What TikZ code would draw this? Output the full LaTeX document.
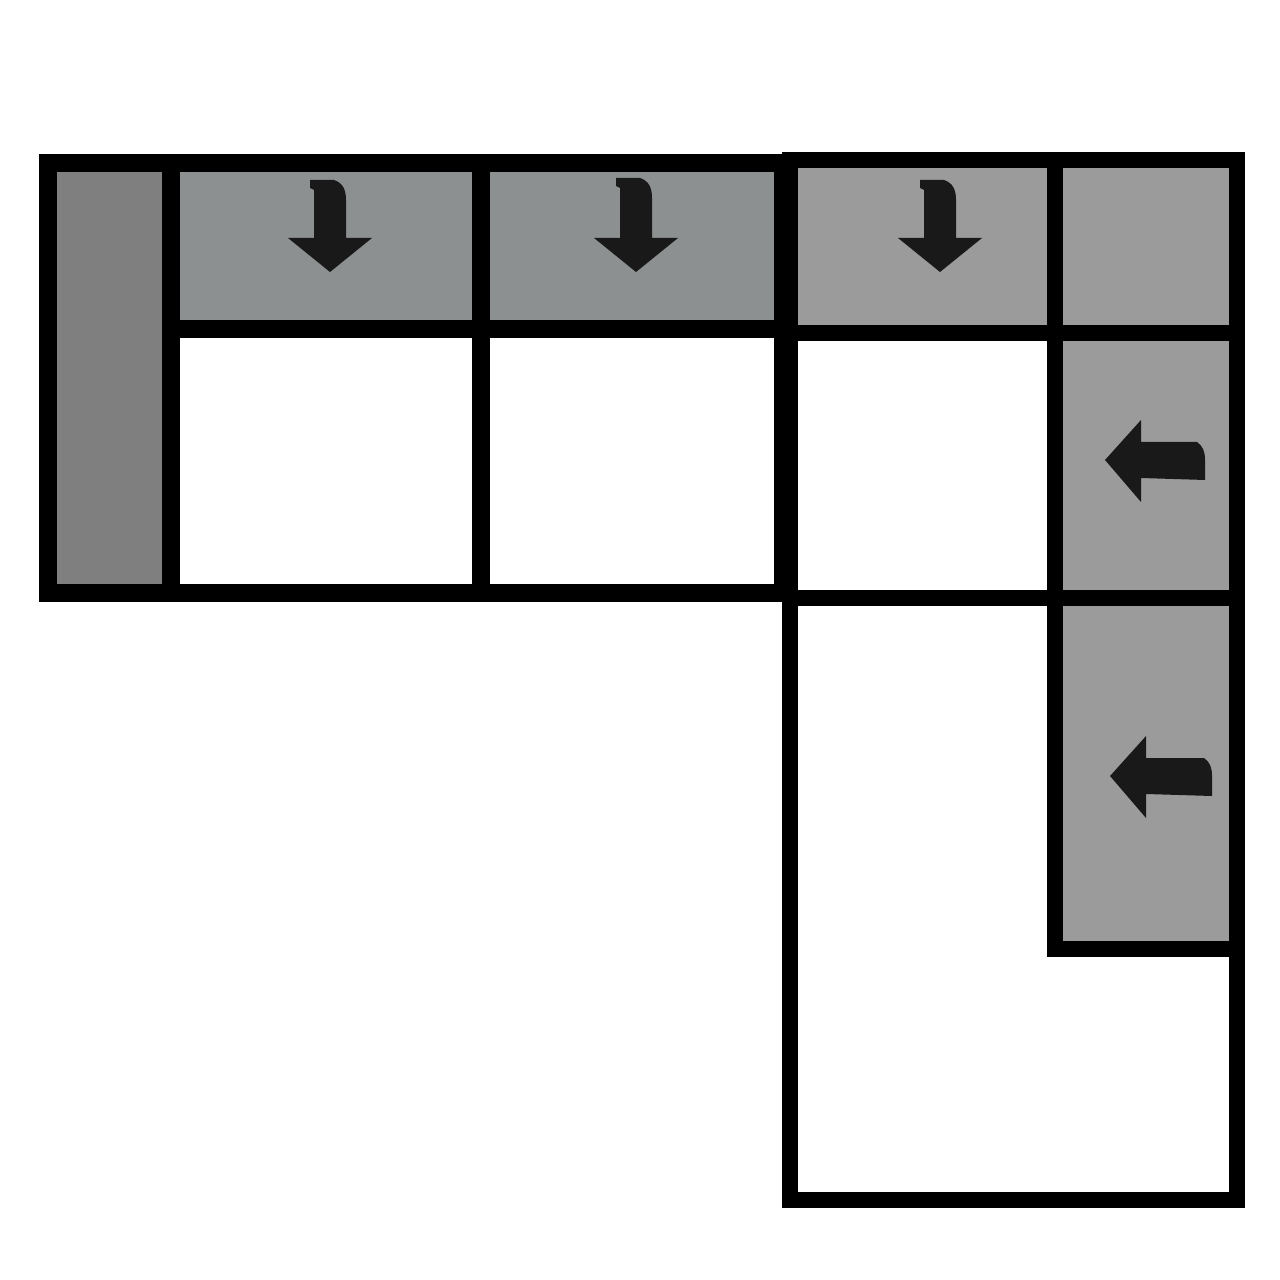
\documentclass[tikz,border=0pt]{standalone}
\begin{document}
\begin{tikzpicture}[x=0.01cm,y=-0.01cm,
  frame/.style={line width=0.18cm,line cap=rect},
  thin frame/.style={line width=0.16cm,line cap=rect},
  arrowfill/.style={fill=black!90},
]
\definecolor{armdark}{HTML}{7F7F7F}
\definecolor{backgray}{HTML}{8D9090}
\definecolor{rightgray}{HTML}{9A9B9A}
\useasboundingbox (0,0) rectangle (1280,1280);
\fill[white] (0,0) rectangle (1280,1280);
% fills
\fill[armdark] (48,163) rectangle (171,593);
\fill[backgray] (171,163) rectangle (481,329);
\fill[backgray] (481,163) rectangle (783,329);
\fill[rightgray] (790,160) rectangle (1055,333);
\fill[rightgray] (1055,160) rectangle (1237,333);
\fill[rightgray] (1055,333) rectangle (1237,598);
\fill[rightgray] (1055,598) rectangle (1237,949);
% left section frame
\draw[frame] (48,163) rectangle (783,593);
\draw[frame] (171,163) -- (171,593);
\draw[frame] (481,163) -- (481,593);
\draw[frame] (171,329) -- (783,329);
% right section frame
\draw[thin frame] (790,160) -- (1237,160) -- (1237,1200) -- (790,1200) -- cycle;
\draw[thin frame] (790,333) -- (1237,333);
\draw[thin frame] (790,598) -- (1237,598);
\draw[thin frame] (1055,160) -- (1055,949) -- (1237,949);
% down arrows
\foreach \c/\t in {330/180,636/178,940/180}{
  \fill[arrowfill] (\c-20,\t) -- (\c+4,\t) .. controls (\c+13,\t+3) and (\c+16,\t+10) .. (\c+16,\t+20)
    -- (\c+16,238) -- (\c+42,238) -- (\c,272) -- (\c-42,238) -- (\c-16,238) -- (\c-16,\t+10) -- (\c-20,\t+8) -- cycle;
}
% left arrows
\foreach \ty/\tx/\ex in {460/1105/1205,776/1110/1212}{
  \fill[arrowfill] (\tx,\ty) -- (\tx+36,\ty-40) -- (\tx+36,\ty-18) -- (\ex-8,\ty-18)
    .. controls (\ex-2,\ty-14) and (\ex,\ty-8) .. (\ex,\ty)
    -- (\ex,\ty+20) -- (\tx+36,\ty+18) -- (\tx+36,\ty+42) -- cycle;
}
\end{tikzpicture}
\end{document}
